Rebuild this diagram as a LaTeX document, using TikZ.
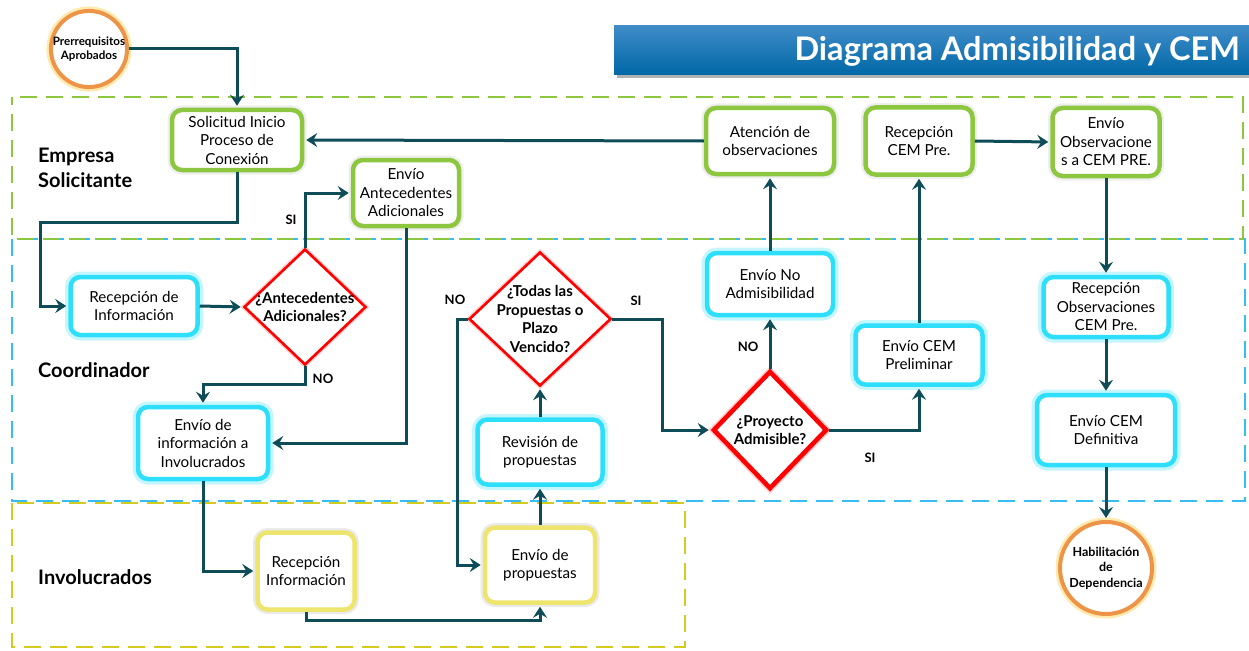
\documentclass[tikz,border=0pt]{standalone}
\usepackage{fontspec}
\setmainfont{Lato}
\usetikzlibrary{shapes.geometric,arrows.meta}

\definecolor{flow}{HTML}{0E4D57}
\definecolor{lgreen}{HTML}{8DC63F}
\definecolor{lcyan}{HTML}{2EDFFC}
\definecolor{lyellow}{HTML}{EDE56D}
\definecolor{lorange}{HTML}{EE9448}
\definecolor{lglow}{HTML}{FFD86A}
\definecolor{laneblue}{HTML}{38BDF2}
\definecolor{laneyellow}{HTML}{D4CB20}
\definecolor{titletop}{HTML}{3F8CC8}
\definecolor{titlebot}{HTML}{0067A6}

\newcommand\boxfont{\fontsize{15.2}{18.5}\selectfont}
\newcommand\diafont{\bfseries\fontsize{15}{18.5}\selectfont}
\newcommand\lanefont{\bfseries\fontsize{20}{25}\selectfont}
\newcommand\tagfont{\bfseries\fontsize{13}{15}\selectfont}

\tikzset{
  box/.style={rectangle, rounded corners=10pt, line width=4.5pt, fill=white,
    align=center, font=\boxfont, inner sep=2pt},
  gbox/.style={box, draw=lgreen,
    preaction={draw=black!45, line width=9pt, opacity=0.15}},
  bbox/.style={box, draw=lcyan,
    preaction={draw=lcyan!70, line width=11pt, opacity=0.4}},
  ybox/.style={box, draw=lyellow,
    preaction={draw=black!45, line width=9pt, opacity=0.18}},
  diam/.style={diamond, draw=red, line width=2.6pt, fill=white, inner sep=0pt,
    preaction={draw=red!60, line width=5.5pt, opacity=0.3}},
  diamthick/.style={diam, line width=4.5pt,
    preaction={draw=red!60, line width=8pt, opacity=0.3}},
  dlab/.style={align=center, font=\diafont, inner sep=0pt},
  term/.style={circle, draw=lorange, line width=4pt, fill=white, inner sep=0pt,
    align=center, preaction={draw=lglow, line width=9pt, opacity=0.55}},
  conn/.style={draw=flow, line width=3pt, shorten >=2pt,
    -{Stealth[length=11pt,width=14pt,inset=4pt]}},
  tag/.style={font=\tagfont, inner sep=0pt},
  lanelabel/.style={font=\lanefont, anchor=west, align=left, inner sep=0pt},
  lane/.style={line width=2.5pt, dash pattern=on 17pt off 9pt},
}

\begin{document}
\begin{tikzpicture}[x=1pt,y=-1pt]
\useasboundingbox (0,0) rectangle (1249,650);

% swimlanes
\draw[lane, draw=laneyellow] (12,503) rectangle (685,647);
\draw[lane, draw=laneblue] (12,239) rectangle (1245,501);
\draw[lane, draw=lgreen, dash phase=9pt] (12,97) rectangle (1243,239);

\node[lanelabel] (lane1) at (38,168) {Empresa\\Solicitante};
\node[lanelabel] (lane2) at (38,370) {Coordinador};
\node[lanelabel] (lane3) at (38,577) {Involucrados};

% title bar
\fill[black, opacity=0.3] (617,29) rectangle (1249,78);
\shade[top color=titletop, bottom color=titlebot] (614,26) rectangle (1249,75);
\node[anchor=east, text=white, inner sep=0pt,
  font=\bfseries\fontsize{32.5}{32.5}\selectfont] (title) at (1240,51)
  {Diagrama Admisibilidad y CEM};

% terminals
\node[term, minimum size=74pt, font=\bfseries\fontsize{11.6}{13.7}\selectfont]
  (start) at (89,49) {Prerrequisitos\\Aprobados};
\node[term, minimum size=92pt, font=\bfseries\fontsize{12.5}{15.5}\selectfont]
  (stop) at (1106,568) {Habilitación\\de\\Dependencia};

% Empresa Solicitante
\node[gbox, minimum width=130pt, minimum height=60pt] (n1) at (237,140)
  {Solicitud Inicio\\Proceso de\\Conexión};
\node[gbox, minimum width=106pt, minimum height=66pt] (n2) at (406,193)
  {Envío\\Antecedentes\\Adicionales};
\node[gbox, minimum width=128pt, minimum height=66pt] (n3) at (770,141)
  {Atención de\\observaciones};
\node[gbox, minimum width=107pt, minimum height=67pt] (n4) at (919,141)
  {Recepción\\CEM Pre.};
\node[gbox, minimum width=107pt, minimum height=68pt] (n5) at (1106,142)
  {Envío\\Observacione\\s a CEM PRE.};

% Coordinador
\node[bbox, minimum width=127pt, minimum height=58pt] (n6) at (134,306)
  {Recepción de\\Información};
\node[bbox, minimum width=130pt, minimum height=72pt] (n7) at (203,443)
  {Envío de\\información a\\Involucrados};
\node[bbox, minimum width=125pt, minimum height=65pt] (n8) at (540,452)
  {Revisión de\\propuestas};
\node[bbox, minimum width=126pt, minimum height=62pt] (n9) at (770,284)
  {Envío No\\Admisibilidad};
\node[bbox, minimum width=127pt, minimum height=59pt] (n10) at (919,355)
  {Envío CEM\\Preliminar};
\node[bbox, minimum width=125pt, minimum height=60pt] (n11) at (1106,307)
  {Recepción\\Observaciones\\CEM Pre.};
\node[bbox, minimum width=138pt, minimum height=70pt] (n12) at (1106,430)
  {Envío CEM\\Definitiva};

% Involucrados
\node[ybox, minimum width=97pt, minimum height=77pt] (n13) at (306,571)
  {Recepción\\Información};
\node[ybox, minimum width=110pt, minimum height=75pt] (n14) at (540,565)
  {Envío de\\propuestas};

% decisions
\node[diam, minimum width=122pt, minimum height=116pt,
  label={[dlab]center:{¿Antecedentes\\Adicionales?}}] (d1) at (305,307) {};
\node[diam, minimum width=142pt, minimum height=134pt,
  label={[dlab]center:{¿Todas las\\Propuestas o\\Plazo\\Vencido?}}] (d2) at (540,319) {};
\node[diamthick, minimum width=114pt, minimum height=118pt,
  label={[dlab]center:{¿Proyecto\\Admisible?}}] (d3) at (770,430) {};

% connectors
\draw[conn] (start.east) -| (n1.north);
\draw[conn] (n1.south) |- (40,222) |- (n6.west);
\draw[conn] (n6.east) -- (d1.west);
\draw[conn] (d1.north) |- (n2.west);
\draw[conn] (d1.south) -- (305,384) -| (n7.north);
\draw[conn] (n2.south) |- (n7.east);
\draw[conn] (n7.south) |- (n13.west);
\draw[conn] (n13.south) -- (306,620) -| (n14.south);
\draw[conn] (n14.north) -- (n8.south);
\draw[conn] (n8.north) -- (d2.south);
\draw[conn] (d2.west) -- (457,319) |- (n14.west);
\draw[conn] (d2.east) -- (662,319) |- (d3.west);
\draw[conn] (d3.north) -- (n9.south);
\draw[conn] (n9.north) -- (n3.south);
\draw[conn] (n3.west) -- (n1.east);
\draw[conn] (d3.east) -| (n10.south);
\draw[conn] (n10.north) -- (n4.south);
\draw[conn] (n4.east) -- (n5.west);
\draw[conn] (n5.south) -- (n11.north);
\draw[conn] (n11.south) -- (n12.north);
\draw[conn] (n12.south) -- (stop.north);

% branch tags
\node[tag] (t1) at (291,220) {SI};
\node[tag] (t2) at (323,379) {NO};
\node[tag] (t3) at (455,300) {NO};
\node[tag] (t4) at (636,301) {SI};
\node[tag] (t5) at (748,347) {NO};
\node[tag] (t6) at (870,458) {SI};
\end{tikzpicture}
\end{document}
